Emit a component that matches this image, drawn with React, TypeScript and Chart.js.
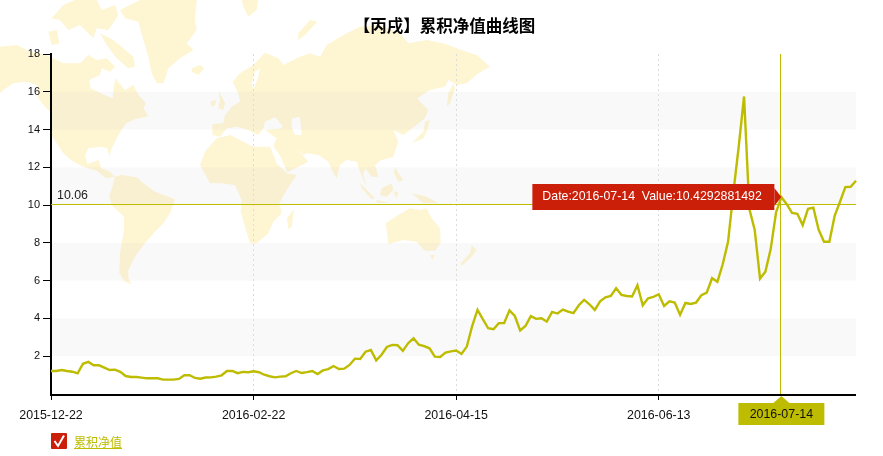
import React, { useEffect, useRef } from "react";
import { Chart, registerables } from "chart.js";

Chart.register(...registerables);

const chartTitle = "【丙戌】累积净值曲线图";
const seriesName = "累积净值";
const averageValue = 10.06;
const stripeBands = [[2, 4], [6, 8], [10, 12], [14, 16]];
const yTickValues = [2, 4, 6, 8, 10, 12, 14, 16, 18];
const xTickDates = ["2015-12-22", "2016-02-22", "2016-04-15", "2016-06-13"];
const activeDate = "2016-07-14";

const dates = [
  "2015-12-22","2015-12-23","2015-12-24","2015-12-25","2015-12-28","2015-12-29","2015-12-30","2015-12-31",
  "2016-01-04","2016-01-05","2016-01-06","2016-01-07","2016-01-08","2016-01-11","2016-01-12","2016-01-13","2016-01-14","2016-01-15","2016-01-18","2016-01-19","2016-01-20","2016-01-21","2016-01-22","2016-01-25","2016-01-26","2016-01-27","2016-01-28","2016-01-29",
  "2016-02-01","2016-02-02","2016-02-03","2016-02-04","2016-02-05","2016-02-15","2016-02-16","2016-02-17","2016-02-18","2016-02-19","2016-02-22","2016-02-23","2016-02-24","2016-02-25","2016-02-26","2016-02-29",
  "2016-03-01","2016-03-02","2016-03-03","2016-03-04","2016-03-07","2016-03-08","2016-03-09","2016-03-10","2016-03-11","2016-03-14","2016-03-15","2016-03-16","2016-03-17","2016-03-18","2016-03-21","2016-03-22","2016-03-23","2016-03-24","2016-03-25","2016-03-28","2016-03-29","2016-03-30","2016-03-31",
  "2016-04-01","2016-04-05","2016-04-06","2016-04-07","2016-04-08","2016-04-11","2016-04-12","2016-04-13","2016-04-14","2016-04-15","2016-04-18","2016-04-19","2016-04-20","2016-04-21","2016-04-22","2016-04-25","2016-04-26","2016-04-27","2016-04-28","2016-04-29",
  "2016-05-03","2016-05-04","2016-05-05","2016-05-06","2016-05-09","2016-05-10","2016-05-11","2016-05-12","2016-05-13","2016-05-16","2016-05-17","2016-05-18","2016-05-19","2016-05-20","2016-05-23","2016-05-24","2016-05-25","2016-05-26","2016-05-27","2016-05-30","2016-05-31",
  "2016-06-01","2016-06-02","2016-06-03","2016-06-06","2016-06-07","2016-06-08","2016-06-13","2016-06-14","2016-06-15","2016-06-16","2016-06-17","2016-06-20","2016-06-21","2016-06-22","2016-06-23","2016-06-24","2016-06-27","2016-06-28","2016-06-29","2016-06-30",
  "2016-07-01","2016-07-04","2016-07-05","2016-07-06","2016-07-07","2016-07-08","2016-07-11","2016-07-12","2016-07-13","2016-07-14","2016-07-15","2016-07-18","2016-07-19","2016-07-20","2016-07-21","2016-07-22","2016-07-25","2016-07-26","2016-07-27","2016-07-28","2016-07-29",
  "2016-08-01","2016-08-02","2016-08-03",
];

const values = [
  1.22,1.22,1.27,1.22,1.18,1.09,1.6,1.7,1.52,1.52,
  1.4,1.27,1.29,1.17,0.95,0.9,0.9,0.87,0.83,0.83,
  0.83,0.76,0.76,0.76,0.8,0.99,1.0,0.85,0.81,0.87,
  0.88,0.92,0.99,1.22,1.22,1.1,1.17,1.15,1.2,1.15,
  1.02,0.94,0.88,0.92,0.94,1.1,1.22,1.11,1.16,1.22,
  1.06,1.25,1.32,1.48,1.32,1.34,1.54,1.87,1.85,2.24,
  2.33,1.78,2.08,2.49,2.6,2.58,2.28,2.69,2.95,2.61,
  2.54,2.42,1.98,1.96,2.19,2.26,2.3,2.12,2.51,3.6,
  4.45,3.96,3.48,3.43,3.75,3.76,4.43,4.13,3.36,3.6,
  4.12,3.98,4.01,3.83,4.35,4.26,4.47,4.36,4.28,4.7,
  4.98,4.75,4.45,4.91,5.12,5.19,5.6,5.25,5.19,5.16,
  5.76,4.7,5.07,5.14,5.28,4.66,4.91,4.84,4.19,4.82,
  4.77,4.84,5.23,5.37,6.13,5.94,6.87,8.06,10.67,13.1,
  15.75,9.79,8.69,6.11,6.47,7.67,9.61,10.4292881492,10.05,9.59,
  9.54,8.94,9.8,9.86,8.69,8.06,8.06,9.43,10.18,10.95,
  10.97,11.29,
];

// Decorative world-map backdrop (not data): outlines traced from enlarged crops.
type Land = { ox: number; oy: number; pts: number[][]; hole?: boolean };
const land: Land[] = [
  { ox: 0, oy: 40, pts: [[0,160],[10,150],[40,130],[80,125],[110,135],[115,175],[135,200],[150,215],[150,280],[170,310],[190,340],[215,362],[250,380],[290,392],[320,415],[345,410],[330,395],[305,385],[295,360],[262,372],[255,345],[265,325],[300,320],[322,325],[328,350],[335,325],[355,285],[378,250],[405,238],[445,228],[430,205],[438,190],[415,165],[400,135],[375,150],[345,115],[338,175],[320,168],[272,145],[268,120],[300,105],[305,85],[330,95],[345,80],[320,55],[290,60],[265,45],[240,70],[190,70],[150,50],[120,40],[90,35],[50,15],[0,20]] },
  { ox: 0, oy: 0, pts: [[300,100],[340,120],[400,170],[405,200],[385,205],[350,175],[320,135]] },
  { ox: 0, oy: 0, pts: [[145,95],[170,90],[178,130],[155,135]] },
  { ox: 0, oy: 0, pts: [[155,55],[190,15],[225,0],[290,0],[305,30],[345,15],[355,45],[325,90],[290,85],[280,115],[240,75],[205,90],[180,60]] },
  { ox: 0, oy: 0, pts: [[360,30],[420,0],[590,0],[585,60],[590,90],[560,130],[580,150],[540,175],[505,205],[490,250],[470,250],[455,220],[445,170],[430,120],[415,65],[375,55]] },
  { ox: 0, oy: 0, pts: [[575,205],[600,195],[613,205],[595,225],[575,215]] },
  { ox: 0, oy: 0, pts: [[725,0],[775,0],[770,30],[745,50],[730,20]] },
  { ox: 230, oy: 20, pts: [[240,0],[262,5],[225,45],[205,60],[205,40]] },
  { ox: 0, oy: 40, pts: [[345,410],[365,405],[410,412],[430,430],[465,455],[525,478],[510,520],[490,550],[465,575],[430,615],[405,650],[385,690],[385,715],[395,733],[375,725],[358,700],[360,640],[372,570],[372,530],[335,495],[328,470],[340,430]] },
  { ox: 0, oy: 40, pts: [[600,375],[615,335],[650,295],[690,285],[730,305],[760,320],[810,320],[830,370],[860,400],[890,405],[860,450],[838,490],[845,520],[820,545],[805,580],[770,610],[750,610],[735,560],[722,515],[725,480],[705,435],[665,430],[630,430]] },
  { ox: 190, oy: 40, pts: [[312,507],[305,560],[295,567],[291,535]] },
  { ox: 190, oy: 40, pts: [[67,285],[67,252],[100,250],[105,225],[125,200],[150,185],[145,160],[128,125],[150,100],[190,75],[225,38],[265,55],[280,75],[330,50],[360,40],[390,50],[410,15],[470,-20],[510,-40],[570,-45],[630,-20],[655,10],[710,0],[760,10],[830,35],[860,45],[900,80],[865,100],[830,130],[800,135],[775,120],[765,140],[720,150],[682,175],[695,190],[715,210],[705,235],[670,262],[640,285],[610,270],[625,305],[610,350],[570,362],[555,375],[565,410],[545,410],[525,385],[520,405],[530,440],[510,395],[500,365],[470,360],[450,375],[440,415],[430,400],[415,365],[385,345],[350,340],[340,345],[315,320],[355,365],[292,397],[272,350],[250,318],[260,295],[225,270],[275,265],[260,235],[225,245],[220,265],[205,285],[175,270],[140,260],[110,265],[90,290]] },
  { ox: 190, oy: 40, hole: true, pts: [[190,150],[205,110],[210,85],[195,95],[185,130]] },
  { ox: 190, oy: 40, hole: true, pts: [[305,235],[330,230],[335,285],[315,285],[305,260]] },
  { ox: 190, oy: 40, hole: true, pts: [[225,245],[255,232],[280,260],[225,262]] },
  { ox: 190, oy: 40, pts: [[85,150],[105,190],[100,210],[85,205],[90,180]] },
  { ox: 190, oy: 40, pts: [[62,185],[78,180],[75,197],[62,197]] },
  { ox: 190, oy: 40, pts: [[660,315],[680,295],[700,275],[705,245],[720,240],[712,270],[700,295],[660,312]] },
  { ox: 190, oy: 40, pts: [[770,200],[775,160],[790,130],[795,145],[780,190]] },
  { ox: 190, oy: 40, pts: [[615,380],[625,400],[640,420],[625,425],[612,400]] },
  { ox: 190, oy: 40, pts: [[570,465],[575,445],[605,430],[610,450],[590,470]] },
  { ox: 190, oy: 40, pts: [[510,430],[555,475],[545,478],[515,445]] },
  { ox: 190, oy: 40, pts: [[665,460],[710,470],[745,490],[700,490]] },
  { ox: 190, oy: 40, pts: [[610,455],[625,455],[620,475]] },
  { ox: 190, oy: 40, pts: [[560,480],[600,490],[560,488]] },
  { ox: 190, oy: 40, pts: [[587,550],[625,525],[660,505],[690,510],[710,505],[725,535],[750,565],[752,610],[735,632],[705,632],[680,605],[640,600],[595,612]] },
  { ox: 190, oy: 40, pts: [[720,645],[735,645],[727,660]] },
  { ox: 190, oy: 40, pts: [[845,615],[860,630],[845,650],[815,678],[812,670],[840,640]] },
];

const LINE = "#bdbc00";
const RED = "#cc1f0a";
const FONT = "'Liberation Sans', Arial, sans-serif";

const decor = {
  id: "decor",
  beforeDraw(chart: any) {
    const { ctx, width, height } = chart;
    ctx.save();
    ctx.fillStyle = "#ffffff";
    ctx.fillRect(0, 0, width, height);
    for (const l of land) {
      ctx.fillStyle = l.hole ? "#ffffff" : "#fef5d3";
      ctx.beginPath();
      l.pts.forEach((p, i) => {
        const x = l.ox + p[0] / 3;
        const y = l.oy + p[1] / 3;
        if (i === 0) ctx.moveTo(x, y);
        else ctx.lineTo(x, y);
      });
      ctx.closePath();
      ctx.fill();
    }
    const { chartArea: a, scales } = chart;
    ctx.fillStyle = "rgba(200,200,200,0.1)";
    for (const [lo, hi] of stripeBands) {
      const top = scales.y.getPixelForValue(hi);
      const bot = scales.y.getPixelForValue(lo);
      ctx.fillRect(a.left, top, a.right - a.left, bot - top);
    }
    ctx.restore();
  },
  beforeDatasetsDraw(chart: any) {
    const { ctx, chartArea: a, scales } = chart;
    ctx.save();
    const yAvg = Math.round(scales.y.getPixelForValue(averageValue)) + 0.5;
    ctx.strokeStyle = LINE;
    ctx.lineWidth = 1;
    ctx.beginPath();
    ctx.moveTo(a.left, yAvg);
    ctx.lineTo(a.right, yAvg);
    ctx.stroke();
    ctx.restore();
  },
  afterDraw(chart: any) {
    const { ctx, chartArea: a, scales } = chart;
    const idx = dates.indexOf(activeDate);
    const val = values[idx];
    const px = scales.x.getPixelForValue(idx);
    const py = scales.y.getPixelForValue(val);
    const cx = Math.round(px) - 0.5;
    ctx.save();

    // x axis line
    ctx.fillStyle = "#000";
    ctx.fillRect(a.left - 1, a.bottom, a.right - a.left + 1, 2);

    // title
    ctx.fillStyle = "#000";
    ctx.font = "bold 16.5px 'Noto Sans CJK SC', sans-serif";
    ctx.textAlign = "center";
    ctx.textBaseline = "middle";
    ctx.fillText(chartTitle, 444.5, 26);

    // average label
    ctx.fillStyle = "#222";
    ctx.font = `12.4px ${FONT}`;
    ctx.textAlign = "left";
    ctx.textBaseline = "bottom";
    ctx.fillText(averageValue.toFixed(2), a.left + 6, scales.y.getPixelForValue(averageValue) - 2);

    // crosshair
    ctx.strokeStyle = LINE;
    ctx.lineWidth = 1;
    ctx.beginPath();
    ctx.moveTo(cx, a.top);
    ctx.lineTo(cx, a.bottom);
    ctx.stroke();

    // tooltip
    const boxR = px - 7;
    const boxL = boxR - 242;
    ctx.fillStyle = RED;
    ctx.fillRect(boxL, py - 13, 242, 26);
    ctx.beginPath();
    ctx.moveTo(boxR, py - 9);
    ctx.lineTo(px, py);
    ctx.lineTo(boxR, py + 9);
    ctx.closePath();
    ctx.fill();
    ctx.fillStyle = "#fff";
    ctx.font = `12.35px ${FONT}`;
    ctx.textBaseline = "middle";
    ctx.fillText(`Date:${activeDate}  Value:${val}`, boxL + 10, py);

    // axis pointer bubble
    const by = a.bottom + 9;
    ctx.fillStyle = LINE;
    ctx.beginPath();
    ctx.moveTo(px, a.bottom + 2);
    ctx.lineTo(px + 8, by);
    ctx.lineTo(px - 8, by);
    ctx.closePath();
    ctx.fill();
    ctx.fillRect(px - 43, by, 86, 22);
    ctx.fillStyle = "#111";
    ctx.textAlign = "center";
    ctx.font = `12.4px ${FONT}`;
    ctx.fillText(activeDate, px, by + 12);

    // legend
    ctx.fillStyle = RED;
    ctx.beginPath();
    ctx.roundRect(a.left, 433, 16, 16, 1);
    ctx.fill();
    ctx.strokeStyle = "#fff";
    ctx.lineWidth = 2;
    ctx.beginPath();
    ctx.moveTo(a.left + 3.5, 441);
    ctx.lineTo(a.left + 7, 446);
    ctx.lineTo(a.left + 13, 435.5);
    ctx.stroke();
    ctx.fillStyle = LINE;
    ctx.font = "12px 'Noto Sans CJK SC', sans-serif";
    ctx.textAlign = "left";
    ctx.textBaseline = "middle";
    ctx.fillText(seriesName, 74, 442);
    const w = ctx.measureText(seriesName).width;
    ctx.fillRect(74, 448, w, 1);
    ctx.restore();
  },
};

export default function App() {
  const ref = useRef<HTMLCanvasElement>(null);
  useEffect(() => {
    const chart = new Chart(ref.current as HTMLCanvasElement, {
      type: "line",
      data: {
        labels: dates,
        datasets: [
          {
            label: seriesName,
            data: values,
            borderColor: LINE,
            borderWidth: 2.4,
            pointRadius: 0,
            tension: 0,
            fill: false,
            clip: false,
          },
        ],
      },
      options: {
        animation: false,
        responsive: false,
        devicePixelRatio: 1,
        layout: { padding: { top: 54, right: 27, left: 0, bottom: 0 } },
        plugins: { legend: { display: false }, tooltip: { enabled: false }, title: { display: false } },
        events: [],
        scales: {
          x: {
            type: "category",
            offset: false,
            afterBuildTicks(scale: any) {
              scale.ticks = xTickDates.map((d) => ({ value: dates.indexOf(d), label: d }));
            },
            afterFit(scale: any) {
              scale.height = 62;
            },
            ticks: {
              autoSkip: false,
              maxRotation: 0,
              minRotation: 0,
              color: "#111",
              padding: 8,
              font: { family: FONT, size: 12.4 },
              callback(this: any, v: any) {
                return dates[v];
              },
            },
            grid: {
              color: "#dcdcdc",
              lineWidth: 1,
              drawTicks: true,
              tickLength: 6,
              tickColor: "#000",
              tickWidth: 1,
              tickBorderDash: [],
            },
            border: { display: false, dash: [2, 3] },
          },
          y: {
            min: 0,
            max: 18,
            afterBuildTicks(scale: any) {
              scale.ticks = yTickValues.map((v) => ({ value: v }));
            },
            afterFit(scale: any) {
              scale.width = 51;
            },
            ticks: {
              color: "#111",
              padding: 3,
              font: { family: FONT, size: 11 },
            },
            grid: { drawOnChartArea: false, drawTicks: true, tickLength: 8, tickColor: "#000", tickWidth: 1 },
            border: { color: "#000", width: 2 },
          },
        },
      },
      plugins: [decor],
    } as any);
    return () => chart.destroy();
  }, []);
  return (
    <div style={{ position: "absolute", left: 0, top: 0, width: 883, height: 456 }}>
      <canvas ref={ref} width={883} height={456} style={{ display: "block" }} />
    </div>
  );
}
